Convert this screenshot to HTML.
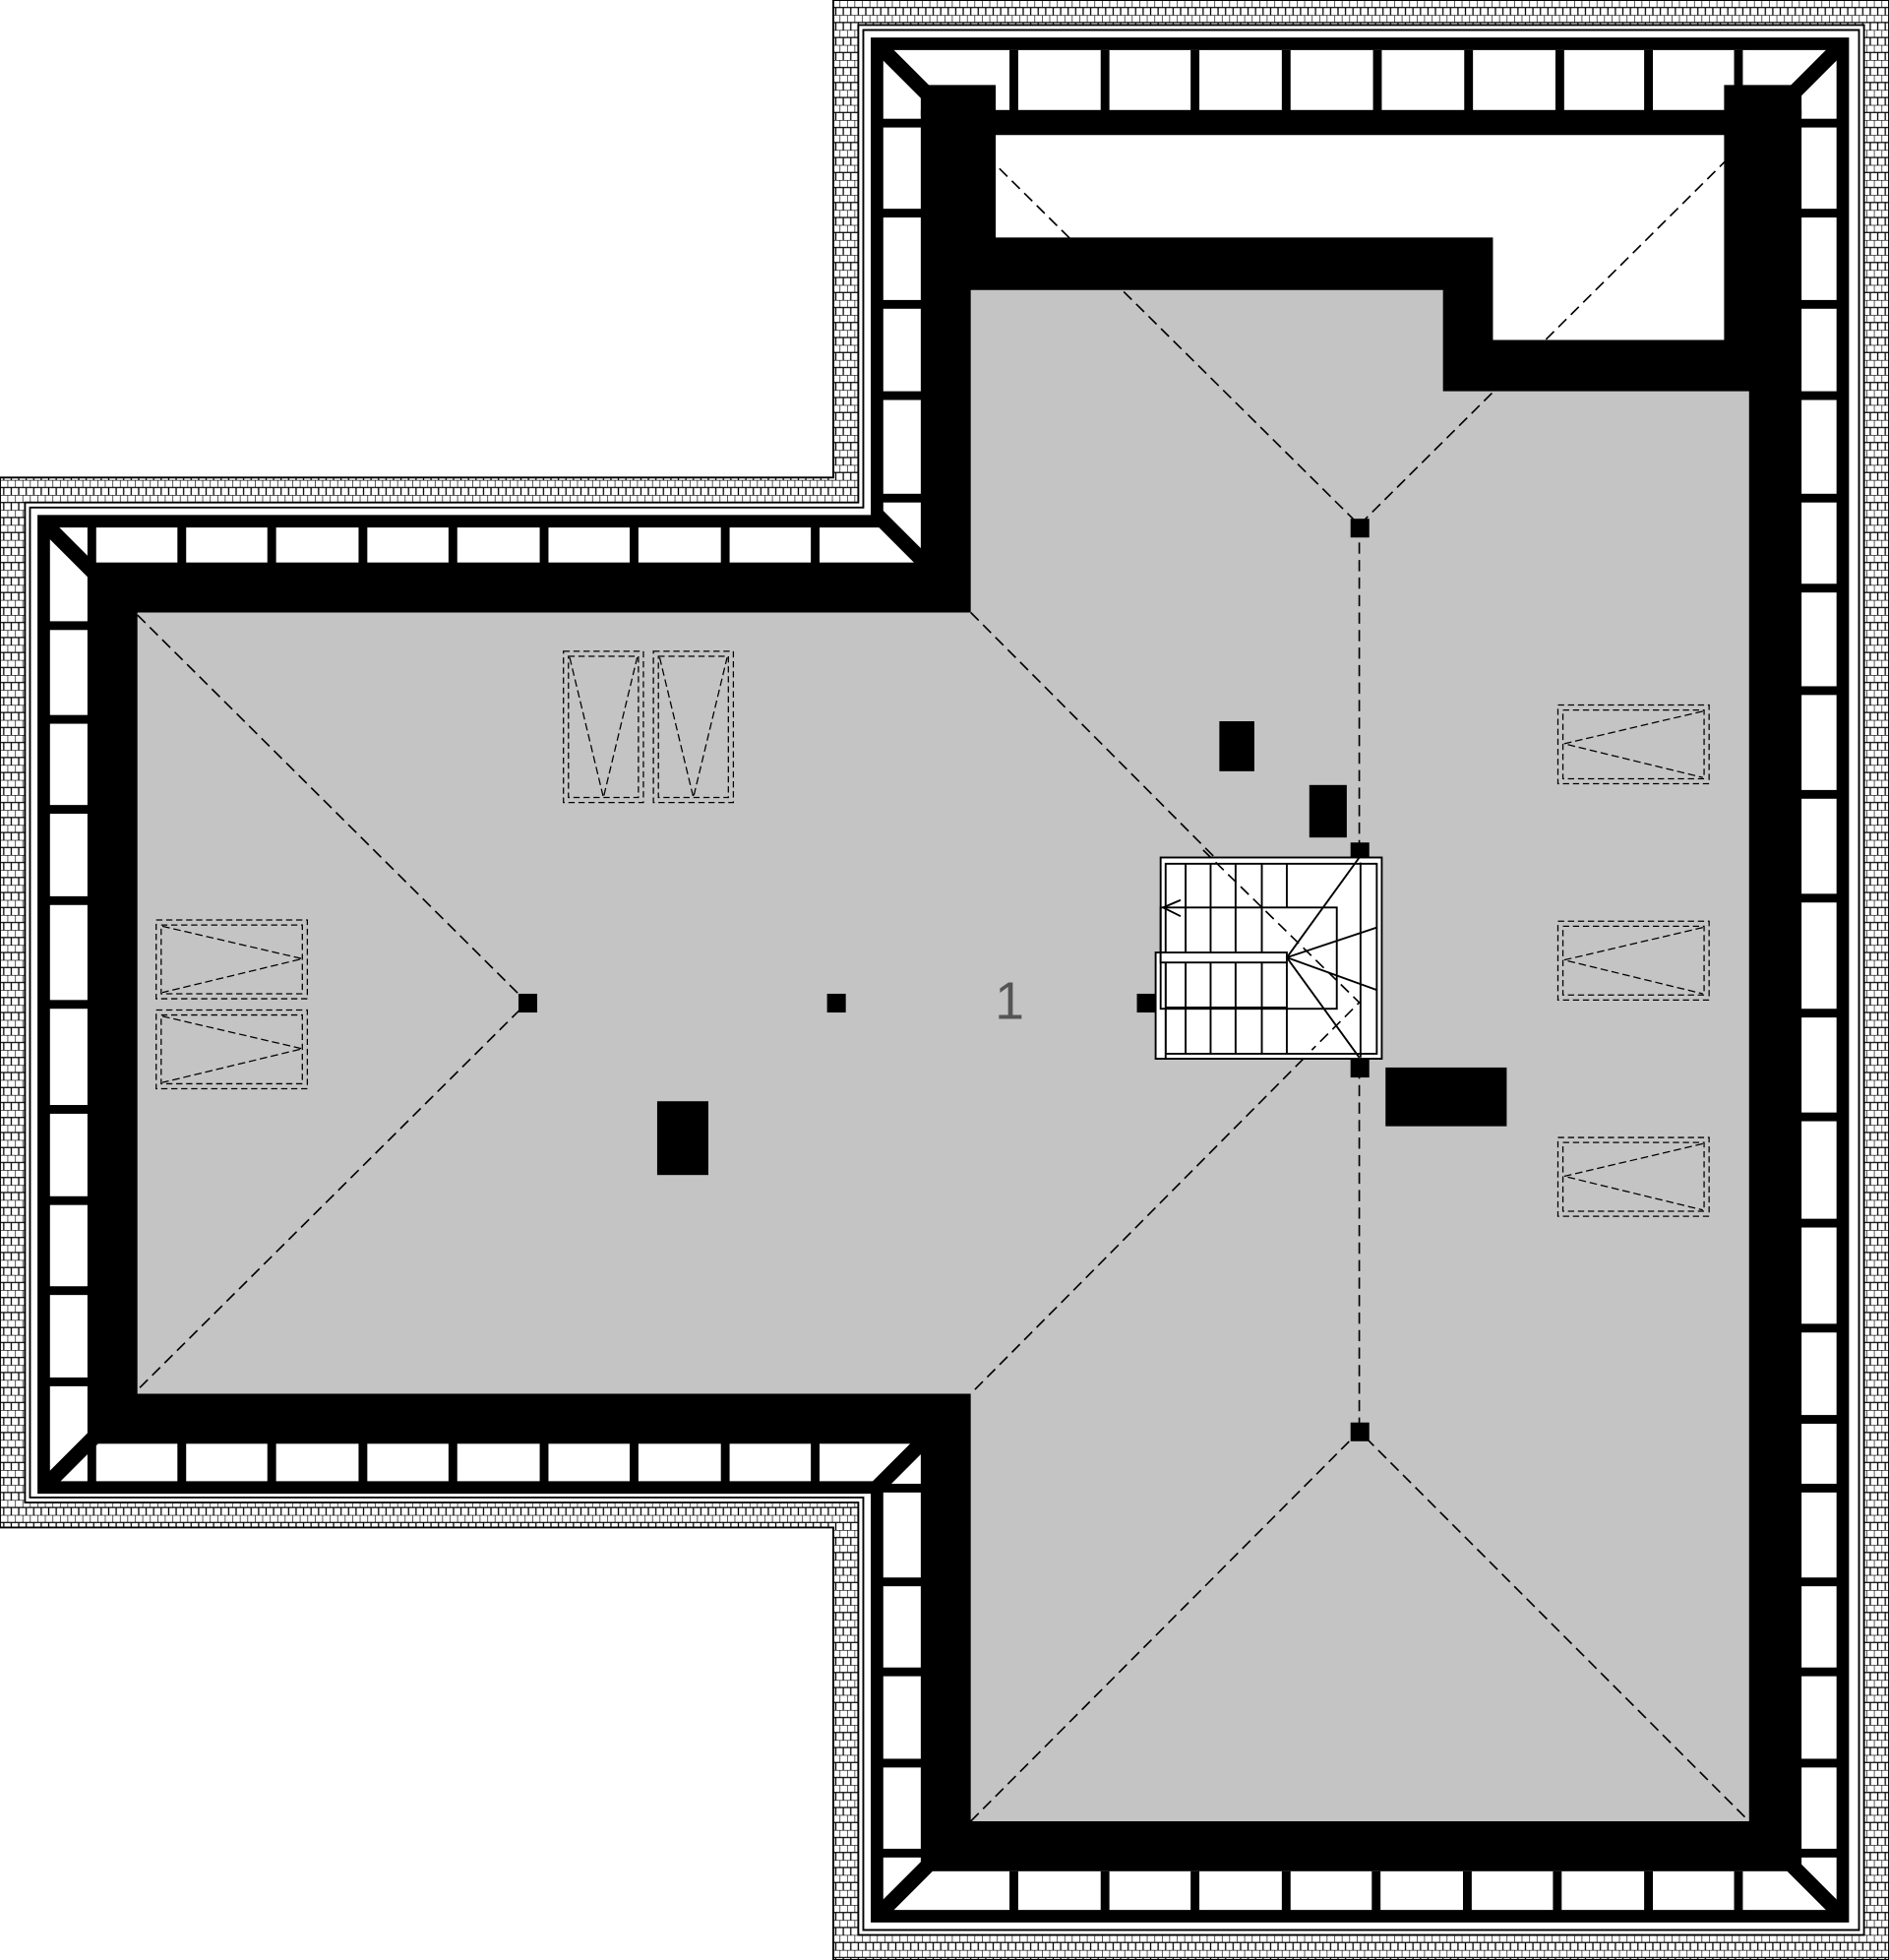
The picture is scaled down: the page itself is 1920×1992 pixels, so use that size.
<!DOCTYPE html>
<html><head><meta charset="utf-8"><style>html,body{margin:0;padding:0;background:#fff}svg{display:block}</style></head>
<body>
<svg width="1920" height="1992" viewBox="0 0 1512 1568" preserveAspectRatio="none" xmlns="http://www.w3.org/2000/svg">
<defs>
<pattern id="brick" width="6" height="12" patternUnits="userSpaceOnUse">
<rect width="6" height="12" fill="#fff"/>
<path d="M0 0V6M3 6V12M0 6H6M0 0H6" stroke="#000" stroke-width="1" fill="none"/>
</pattern>
</defs>
<rect width="1512" height="1568" fill="#fff"/>
<path fill-rule="evenodd" fill="url(#brick)" stroke="#000" stroke-width="1.5" d="M667 0H1512V1568H667V1222H0V382H667Z M687 20V402H20V1202H687V1548H1492V20Z"/>
<path fill="none" stroke="#000" stroke-width="1.5" d="M691 24V406H24V1198H691V1544H1488V24Z"/>
<path fill="none" stroke="#000" stroke-width="10" d="M702 35V417H35V1190H702V1533H1475V35Z"/>
<g stroke="#000" stroke-width="12">
<line x1="704" y1="37" x2="760" y2="93"/>
<line x1="1473" y1="37" x2="1420" y2="90"/>
<line x1="704" y1="1531" x2="750" y2="1485"/>
<line x1="1473" y1="1531" x2="1425" y2="1483"/>
<line x1="37" y1="420" x2="82" y2="465"/>
<line x1="37" y1="1188" x2="82" y2="1143"/>
<line x1="700" y1="410" x2="745" y2="455"/>
<line x1="700" y1="1192" x2="745" y2="1147"/>
</g>
<g fill="#000">
<rect x="808" y="40" width="7" height="50"/><rect x="881" y="40" width="7" height="50"/><rect x="953" y="40" width="7" height="50"/><rect x="1026" y="40" width="7" height="50"/><rect x="1099" y="40" width="7" height="50"/><rect x="1172" y="40" width="7" height="50"/><rect x="1245" y="40" width="7" height="50"/><rect x="1316" y="40" width="7" height="50"/><rect x="1388" y="40" width="7" height="50"/>
<rect x="808" y="1497" width="7" height="32"/><rect x="881" y="1497" width="7" height="32"/><rect x="953" y="1497" width="7" height="32"/><rect x="1026" y="1497" width="7" height="32"/><rect x="1098" y="1497" width="7" height="32"/><rect x="1171" y="1497" width="7" height="32"/><rect x="1243" y="1497" width="7" height="32"/><rect x="1316" y="1497" width="7" height="32"/><rect x="1388" y="1497" width="7" height="32"/>
</g>
<g fill="#000">
<rect x="1440" y="95" width="32" height="7"/><rect x="1440" y="167" width="32" height="7"/><rect x="1440" y="240" width="32" height="7"/><rect x="1440" y="313" width="32" height="7"/><rect x="1440" y="395" width="32" height="7"/><rect x="1440" y="467" width="32" height="7"/><rect x="1440" y="549" width="32" height="7"/><rect x="1440" y="632" width="32" height="7"/><rect x="1440" y="715" width="32" height="7"/><rect x="1440" y="807" width="32" height="7"/><rect x="1440" y="890" width="32" height="7"/><rect x="1440" y="975" width="32" height="7"/><rect x="1440" y="1059" width="32" height="7"/><rect x="1440" y="1132" width="32" height="7"/><rect x="1440" y="1187" width="32" height="7"/><rect x="1440" y="1262" width="32" height="7"/><rect x="1440" y="1334" width="32" height="7"/><rect x="1440" y="1407" width="32" height="7"/><rect x="1440" y="1479" width="32" height="7"/>
<rect x="705" y="95" width="34" height="7"/><rect x="705" y="167" width="34" height="7"/><rect x="705" y="240" width="34" height="7"/><rect x="705" y="313" width="34" height="7"/><rect x="705" y="395" width="34" height="7"/>
<rect x="705" y="1187" width="34" height="7"/><rect x="705" y="1262" width="34" height="7"/><rect x="705" y="1334" width="34" height="7"/><rect x="705" y="1407" width="34" height="7"/><rect x="705" y="1479" width="34" height="7"/>
<rect x="38" y="497" width="34" height="7"/><rect x="38" y="572" width="34" height="7"/><rect x="38" y="644" width="34" height="7"/><rect x="38" y="717" width="34" height="7"/><rect x="38" y="800" width="34" height="7"/><rect x="38" y="884" width="34" height="7"/><rect x="38" y="957" width="34" height="7"/><rect x="38" y="1029" width="34" height="7"/><rect x="38" y="1102" width="34" height="7"/>
<rect x="142" y="420" width="7" height="32"/><rect x="214" y="420" width="7" height="32"/><rect x="287" y="420" width="7" height="32"/><rect x="359" y="420" width="7" height="32"/><rect x="432" y="420" width="7" height="32"/><rect x="504" y="420" width="7" height="32"/><rect x="577" y="420" width="7" height="32"/><rect x="649" y="420" width="7" height="32"/><rect x="70" y="420" width="7" height="32"/>
<rect x="142" y="1153" width="7" height="34"/><rect x="214" y="1153" width="7" height="34"/><rect x="287" y="1153" width="7" height="34"/><rect x="359" y="1153" width="7" height="34"/><rect x="432" y="1153" width="7" height="34"/><rect x="504" y="1153" width="7" height="34"/><rect x="577" y="1153" width="7" height="34"/><rect x="649" y="1153" width="7" height="34"/><rect x="70" y="1153" width="7" height="34"/>
</g>
<g fill="#000">
<rect x="737" y="88" width="705" height="1409"/>
<rect x="737" y="68" width="60" height="25"/>
<rect x="1380" y="68" width="62" height="25"/>
<rect x="70" y="450" width="700" height="705"/>
</g>
<path fill="#fff" d="M797 108H1380V272H1195V190H797Z"/>
<path fill="#c4c4c4" d="M777 232H1155V313H1400V1457H777V1115H110V490H777Z"/>
<g stroke="#000" stroke-width="1.3" stroke-dasharray="9,5" fill="none">
<path d="M790 125L1088 420L1392 118"/>
<path d="M1088 420V1145"/>
<path d="M777 490L1088 802L777 1115"/>
<path d="M777 1457L1088 1145L1400 1457"/>
<path d="M110 492L422 802L110 1112"/>
</g>
<g fill="#000">
<rect x="1081" y="415" width="15" height="15"/><rect x="1081" y="674" width="15" height="16"/><rect x="1081" y="846" width="15" height="16"/><rect x="1081" y="1138" width="15" height="15"/>
<rect x="415" y="795" width="15" height="15"/><rect x="662" y="795" width="15" height="15"/><rect x="910" y="795" width="15" height="15"/>
<rect x="976" y="577" width="28" height="40"/><rect x="1048" y="628" width="30" height="42"/><rect x="526" y="881" width="41" height="59"/><rect x="1109" y="854" width="97" height="47"/>
</g>
<text x="808" y="815" font-family="Liberation Sans, sans-serif" font-size="42" fill="#555" text-anchor="middle">1</text>
<g fill="none" stroke="#000" stroke-width="1" stroke-dasharray="5,3">
<rect x="451" y="521" width="64" height="121"/><rect x="455" y="525" width="56" height="113"/>
<rect x="523" y="521" width="64" height="121"/><rect x="527" y="525" width="56" height="113"/>
<rect x="125" y="736" width="121" height="63"/><rect x="129" y="740" width="113" height="55"/>
<rect x="125" y="808" width="121" height="63"/><rect x="129" y="812" width="113" height="55"/>
<rect x="1247" y="564" width="121" height="63"/><rect x="1251" y="568" width="113" height="55"/>
<rect x="1247" y="737" width="121" height="63"/><rect x="1251" y="741" width="113" height="55"/>
<rect x="1247" y="910" width="121" height="63"/><rect x="1251" y="914" width="113" height="55"/>
</g>
<g stroke="#000" stroke-width="1" stroke-dasharray="6,3" fill="none">
<path d="M456 526L483 638L510 526"/><path d="M528 526L555 638L582 526"/>
<path d="M130 741L242 767L130 794"/><path d="M130 813L242 839L130 866"/>
<path d="M1363 569L1252 595L1363 622"/><path d="M1363 742L1252 768L1363 795"/><path d="M1363 915L1252 941L1363 968"/>
</g>
<g stroke="#000" stroke-width="1.5" fill="#fff">
<rect x="929" y="686" width="177" height="161"/>
<rect x="933" y="691" width="169" height="152"/>
<rect x="925" y="762" width="8" height="85"/>
</g>
<g stroke="#000" stroke-width="1.5" fill="none">
<rect x="929" y="726" width="141" height="81"/>
<rect x="929" y="762" width="101" height="8" fill="#fff"/>
<path d="M949 691V762M969 691V762M989 691V762M1010 691V762M1030 691V726"/>
<path d="M949 770V843M969 770V843M989 770V843M1010 770V843M1030 770V843"/>
<path d="M933 806H1030"/>
<path d="M1030 766L1088 686M1030 766L1102 742M1030 766L1102 792M1030 766L1088 846"/>
<path d="M945 720L931 726L945 733"/>
<path d="M1089 690V846"/>
</g>
<g stroke="#000" stroke-width="1.3" stroke-dasharray="9,5" fill="none">
<path d="M963 680L1088 802L1050 840"/>
</g>
</svg>
</body></html>
